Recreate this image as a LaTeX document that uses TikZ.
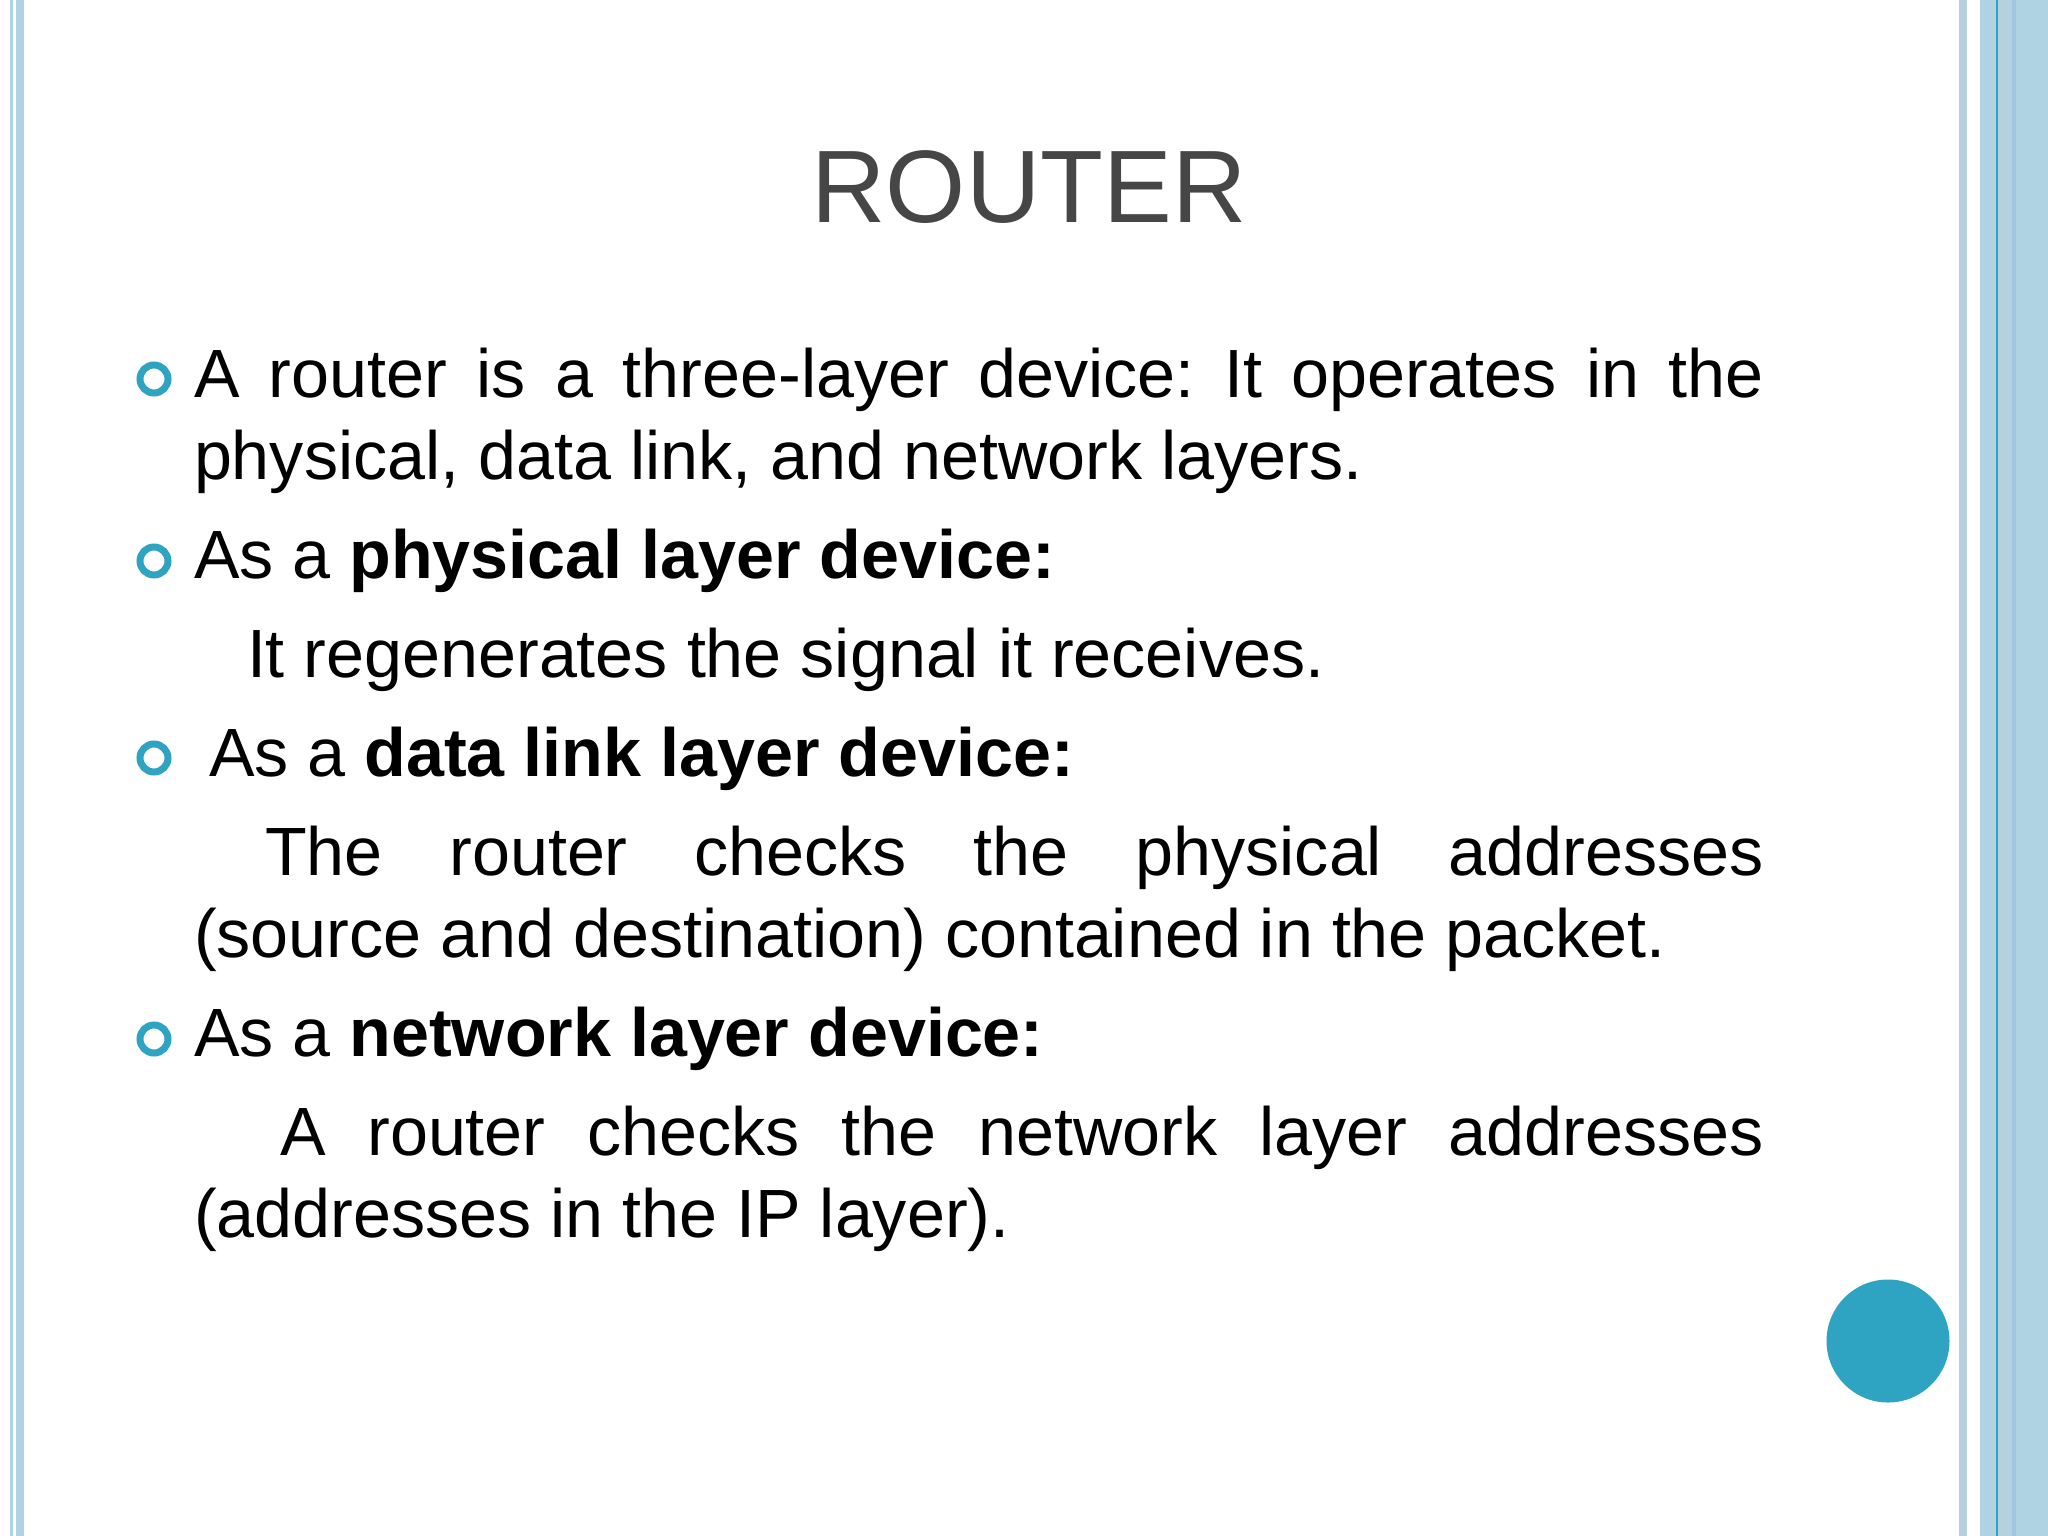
\documentclass[tikz,border=0pt]{standalone}
\usepackage{fontspec}
\setmainfont{Liberation Sans}
\definecolor{teal1}{HTML}{2FA3C2}
\definecolor{titlegrey}{HTML}{464646}
\definecolor{stripa}{HTML}{B8CFDC}
\definecolor{stripb}{HTML}{AFD3E2}
\definecolor{stripc}{HTML}{B5D1DF}
\definecolor{stripd}{HTML}{A0C8DC}
\newcommand{\jline}[1]{\hbox to 1570pt{#1}}
\tikzset{
  x=1pt,y=-1pt,
  bodyline/.style={anchor=base west,inner sep=0pt,outer sep=0pt,text=black,font=\fontsize{68.25}{82}\selectfont},
  titleline/.style={anchor=base,inner sep=0pt,text=titlegrey,font=\fontsize{103}{110}\selectfont},
  bulletring/.style={circle,draw=teal1,line width=7pt,fill=white,minimum size=28pt,inner sep=0pt},
  strip/.style={draw=none}
}
\begin{document}
\begin{tikzpicture}
\useasboundingbox (0,0) rectangle (2048,1536);
\fill[white] (0,0) rectangle (2048,1536);
% left strips
\fill[stripb] (10,0) rectangle (13,1536);
\fill[stripb] (16,0) rectangle (24,1536);
% right strips
\fill[stripa] (1959,0) rectangle (1967,1536);
\fill[stripb] (1980,0) rectangle (1996,1536);
\fill[teal1] (1996,0) rectangle (1998,1536);
\fill[stripc] (1998,0) rectangle (2012,1536);
\fill[stripd] (2012,0) rectangle (2016,1536);
\fill[stripb] (2016,0) rectangle (2048,1536);
\node[circle,fill=teal1,minimum size=123pt,inner sep=0pt] (dot) at (1888,1341) {};
\node[titleline] (title) at (1029,222) {ROUTER};
\node[bulletring] (b1) at (154,379) {};
\node[bulletring] (b2) at (154,561) {};
\node[bulletring] (b3) at (154,758) {};
\node[bulletring] (b4) at (154,1039) {};
\node[bodyline] (l1) at (194,397) {\jline{A\hfill router\hfill is\hfill a\hfill three-layer\hfill device:\hfill It\hfill operates\hfill in\hfill the}};
\node[bodyline] (l2) at (194,479) {physical, data link, and network layers.};
\node[bodyline] (l3) at (194,578) {As a \textbf{physical layer device:}};
\node[bodyline] (l4) at (247,677) {It regenerates the signal it receives.};
\node[bodyline] (l5) at (209,776) {As a \textbf{data link layer device:}};
\node[bodyline] (l6) at (265,875) {\hbox to 1499pt{The\hfill router\hfill checks\hfill the\hfill physical\hfill addresses}};
\node[bodyline] (l7) at (194,957) {(source and destination) contained in the packet.};
\node[bodyline] (l8) at (194,1056) {As a \textbf{network layer device:}};
\node[bodyline] (l9) at (280,1155) {\hbox to 1484pt{A\hfill router\hfill checks\hfill the\hfill network\hfill layer\hfill addresses}};
\node[bodyline] (l10) at (194,1237) {(addresses in the IP layer).};
\end{tikzpicture}
\end{document}
